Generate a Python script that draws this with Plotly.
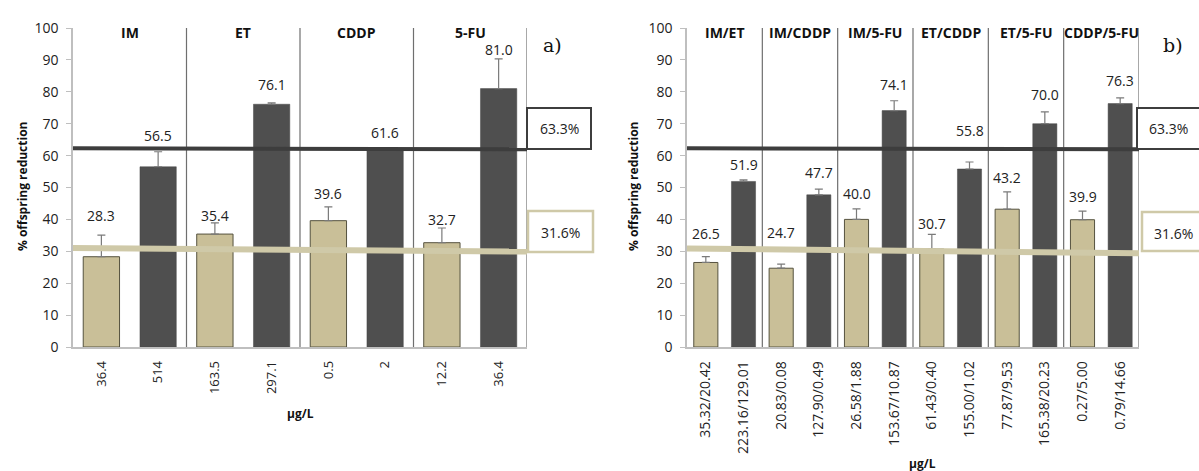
import plotly.graph_objects as go

# ---------------- data ----------------
groups_a = ["IM", "ET", "CDDP", "5-FU"]
ticks_a = ["36.4", "514", "163.5", "297.1", "0.5", "2", "12.2", "36.4"]
low_a = [28.3, 35.4, 39.6, 32.7]
low_err_a = [6.8, 3.5, 4.3, 4.6]
high_a = [56.5, 76.1, 61.6, 81.0]
high_err_a = [4.7, 0.4, 0.4, 9.3]

groups_b = ["IM/ET", "IM/CDDP", "IM/5-FU", "ET/CDDP", "ET/5-FU", "CDDP/5-FU"]
ticks_b = ["35.32/20.42", "223.16/129.01", "20.83/0.08", "127.90/0.49",
           "26.58/1.88", "153.67/10.87", "61.43/0.40", "155.00/1.02",
           "77.87/9.53", "165.38/20.23", "0.27/5.00", "0.79/14.66"]
low_b = [26.5, 24.7, 40.0, 30.7, 43.2, 39.9]
low_err_b = [1.8, 1.3, 3.3, 4.6, 5.4, 2.7]
high_b = [51.9, 47.7, 74.1, 55.8, 70.0, 76.3]
high_err_b = [0.5, 1.8, 3.1, 2.2, 3.7, 1.8]

ref_high_a = [62.3, 62.0]
ref_low_a = [31.0, 29.9]
ref_high_b = [62.3, 62.0]
ref_low_b = [30.9, 29.4]
ref_high_label = "63.3%"
ref_low_label = "31.6%"

# ---------------- styles ----------------
W, H = 1199, 471
TAN = "#c9bf98"
TAN_EDGE = "#55523f"
DARK = "#4f4f4f"
TAN_LINE = "#cfc9a8"
DARK_LINE = "#3d3d3d"
SEP = "#6f6f6f"
AX = "#bfbfbf"
TXT = "#222222"
FONT = "Open Sans"
# extra vertical pixel nudges of the value labels (low bars, then high bars)
nudge_low_a = [5, -7, -1, -6]
nudge_high_a = [2, 4, 2, -5]
nudge_low_b = [9, 17, 1, -4, 0, 0]
nudge_high_b = [1, 2, 2, 17, 3, 3]


def px(x):
    return x / W


def py(y):
    return 1 - y / H


fig = go.Figure()


def add_panel(xa, ya, groups, ticks, low, lerr, high, herr, ref_hi, ref_lo,
              dom_px, tick_size, hdr_size, nud_lo, nud_hi):
    n = len(groups)
    xl = [2 * i for i in range(n)]
    xh = [2 * i + 1 for i in range(n)]
    fig.add_trace(go.Bar(
        x=xl, y=low, width=0.64, xaxis=xa, yaxis=ya,
        marker=dict(color=TAN, line=dict(color=TAN_EDGE, width=1)),
        error_y=dict(type="data", symmetric=False, array=lerr,
                     arrayminus=[0] * n, color="#7a7a7a", thickness=1.2, width=4),
        showlegend=False, hoverinfo="y"))
    fig.add_trace(go.Bar(
        x=xh, y=high, width=0.64, xaxis=xa, yaxis=ya,
        marker=dict(color=DARK, line=dict(color="#474747", width=0.5)),
        error_y=dict(type="data", symmetric=False, array=herr,
                     arrayminus=[0] * n, color="#7a7a7a", thickness=1.2, width=4),
        showlegend=False, hoverinfo="y"))
    xr = xa.replace("x", "xaxis") if xa != "x" else "xaxis"
    yr = ya.replace("y", "yaxis") if ya != "y" else "yaxis"
    xref = xa
    yref = ya
    lo, hi = -0.5, 2 * n - 0.5
    # value labels
    for xs, vals, errs, nud in ((xl, low, lerr, nud_lo), (xh, high, herr, nud_hi)):
        for x, v, e, s in zip(xs, vals, errs, nud):
            fig.add_annotation(x=x, y=v + e, xref=xref, yref=yref, text=f"{v:.1f}",
                               showarrow=False, xanchor="center", yanchor="bottom",
                               yshift=3 + s,
                               font=dict(family=FONT, size=14, color=TXT))
    # separators
    for k in range(n):
        fig.add_shape(type="line", xref=xref, yref=yref, x0=2 * k + 1.5, x1=2 * k + 1.5,
                      y0=-1.6, y1=100, line=dict(color=SEP, width=1.2), layer="above")
    # reference lines
    fig.add_shape(type="line", xref=xref, yref=yref, x0=lo, x1=hi,
                  y0=ref_lo[0], y1=ref_lo[1], line=dict(color=TAN_LINE, width=6), layer="above")
    fig.add_shape(type="line", xref=xref, yref=yref, x0=lo, x1=hi,
                  y0=ref_hi[0], y1=ref_hi[1], line=dict(color=DARK_LINE, width=4), layer="above")
    # group headers
    for k, g in enumerate(groups):
        fig.add_annotation(x=2 * k + 0.5, y=py(33), xref=xref, yref="paper", text=f"<b>{g}</b>",
                           showarrow=False, xanchor="center", yanchor="middle",
                           font=dict(family=FONT, size=hdr_size, color="#111111"))
    fig.layout[xr] = dict(domain=[px(dom_px[0]), px(dom_px[1])], range=[lo, hi],
                          tickvals=list(range(2 * n)), ticktext=ticks, tickangle=-90,
                          showline=True, linecolor=AX, linewidth=1.5, ticks="",
                          showgrid=False, zeroline=False, anchor=ya, ticklabelstandoff=7,
                          automargin=False,
                          tickfont=dict(family=FONT, size=tick_size, color=TXT))
    fig.layout[yr] = dict(domain=[py(347), py(28)], range=[0, 100], dtick=10,
                          showline=True, linecolor=AX, linewidth=1.5, ticks="outside",
                          ticklen=5, tickcolor=AX, showgrid=False, zeroline=False,
                          anchor=xa, ticklabelstandoff=5, automargin=False,
                          tickfont=dict(family=FONT, size=14, color=TXT))


add_panel("x", "y", groups_a, ticks_a, low_a, low_err_a, high_a, high_err_a,
          ref_high_a, ref_low_a, (73, 527), 13, 14, nudge_low_a, nudge_high_a)
add_panel("x2", "y2", groups_b, ticks_b, low_b, low_err_b, high_b, high_err_b,
          ref_high_b, ref_low_b, (687, 1139), 14, 14, nudge_low_b, nudge_high_b)


def box(x0, x1, y0, y1, color, text, tx, ty, lw):
    fig.add_shape(type="rect", xref="paper", yref="paper", x0=px(x0), x1=px(x1),
                  y0=py(y1), y1=py(y0), fillcolor="white", line=dict(color=color, width=lw),
                  layer="above")
    fig.add_annotation(x=px(tx), y=py(ty), xref="paper", yref="paper", text=text,
                       showarrow=False, xanchor="center", yanchor="middle",
                       font=dict(family=FONT, size=14, color=TXT))


box(527, 591, 108, 149, DARK_LINE, ref_high_label, 559, 129, 2)
box(528, 593, 211, 252, TAN_LINE, ref_low_label, 560, 232, 2.5)
box(1137, 1205, 108, 149, DARK_LINE, ref_high_label, 1168, 129, 2)
box(1142, 1210, 212, 251, TAN_LINE, ref_low_label, 1173, 233, 2.5)

# axis titles
for x, y in ((22, 187), (633, 187)):
    fig.add_annotation(x=px(x), y=py(y), xref="paper", yref="paper",
                       text="<b>% offspring reduction</b>", textangle=-90, showarrow=False,
                       xanchor="center", yanchor="middle",
                       font=dict(family=FONT, size=12, color="#111111"))
for x, y in ((300, 413), (922, 463)):
    fig.add_annotation(x=px(x), y=py(y), xref="paper", yref="paper",
                       text="<b>µg/L</b>", showarrow=False, xanchor="center", yanchor="middle",
                       font=dict(family=FONT, size=12, color="#111111"))
for x, y, t in ((552, 45, "a)"), (1173, 45, "b)")):
    fig.add_annotation(x=px(x), y=py(y), xref="paper", yref="paper", text=t,
                       showarrow=False, xanchor="center", yanchor="middle",
                       font=dict(family="DejaVu Serif", size=19, color="#111111"))

fig.update_layout(width=W, height=H, margin=dict(l=0, r=0, t=0, b=0, autoexpand=False),
                  paper_bgcolor="white", plot_bgcolor="white", bargap=0.36,
                  font=dict(family=FONT, color=TXT))

fig.write_html("out.html", config={"displayModeBar": False},
               post_script="document.body.style.margin='0';document.body.style.padding='0';")
